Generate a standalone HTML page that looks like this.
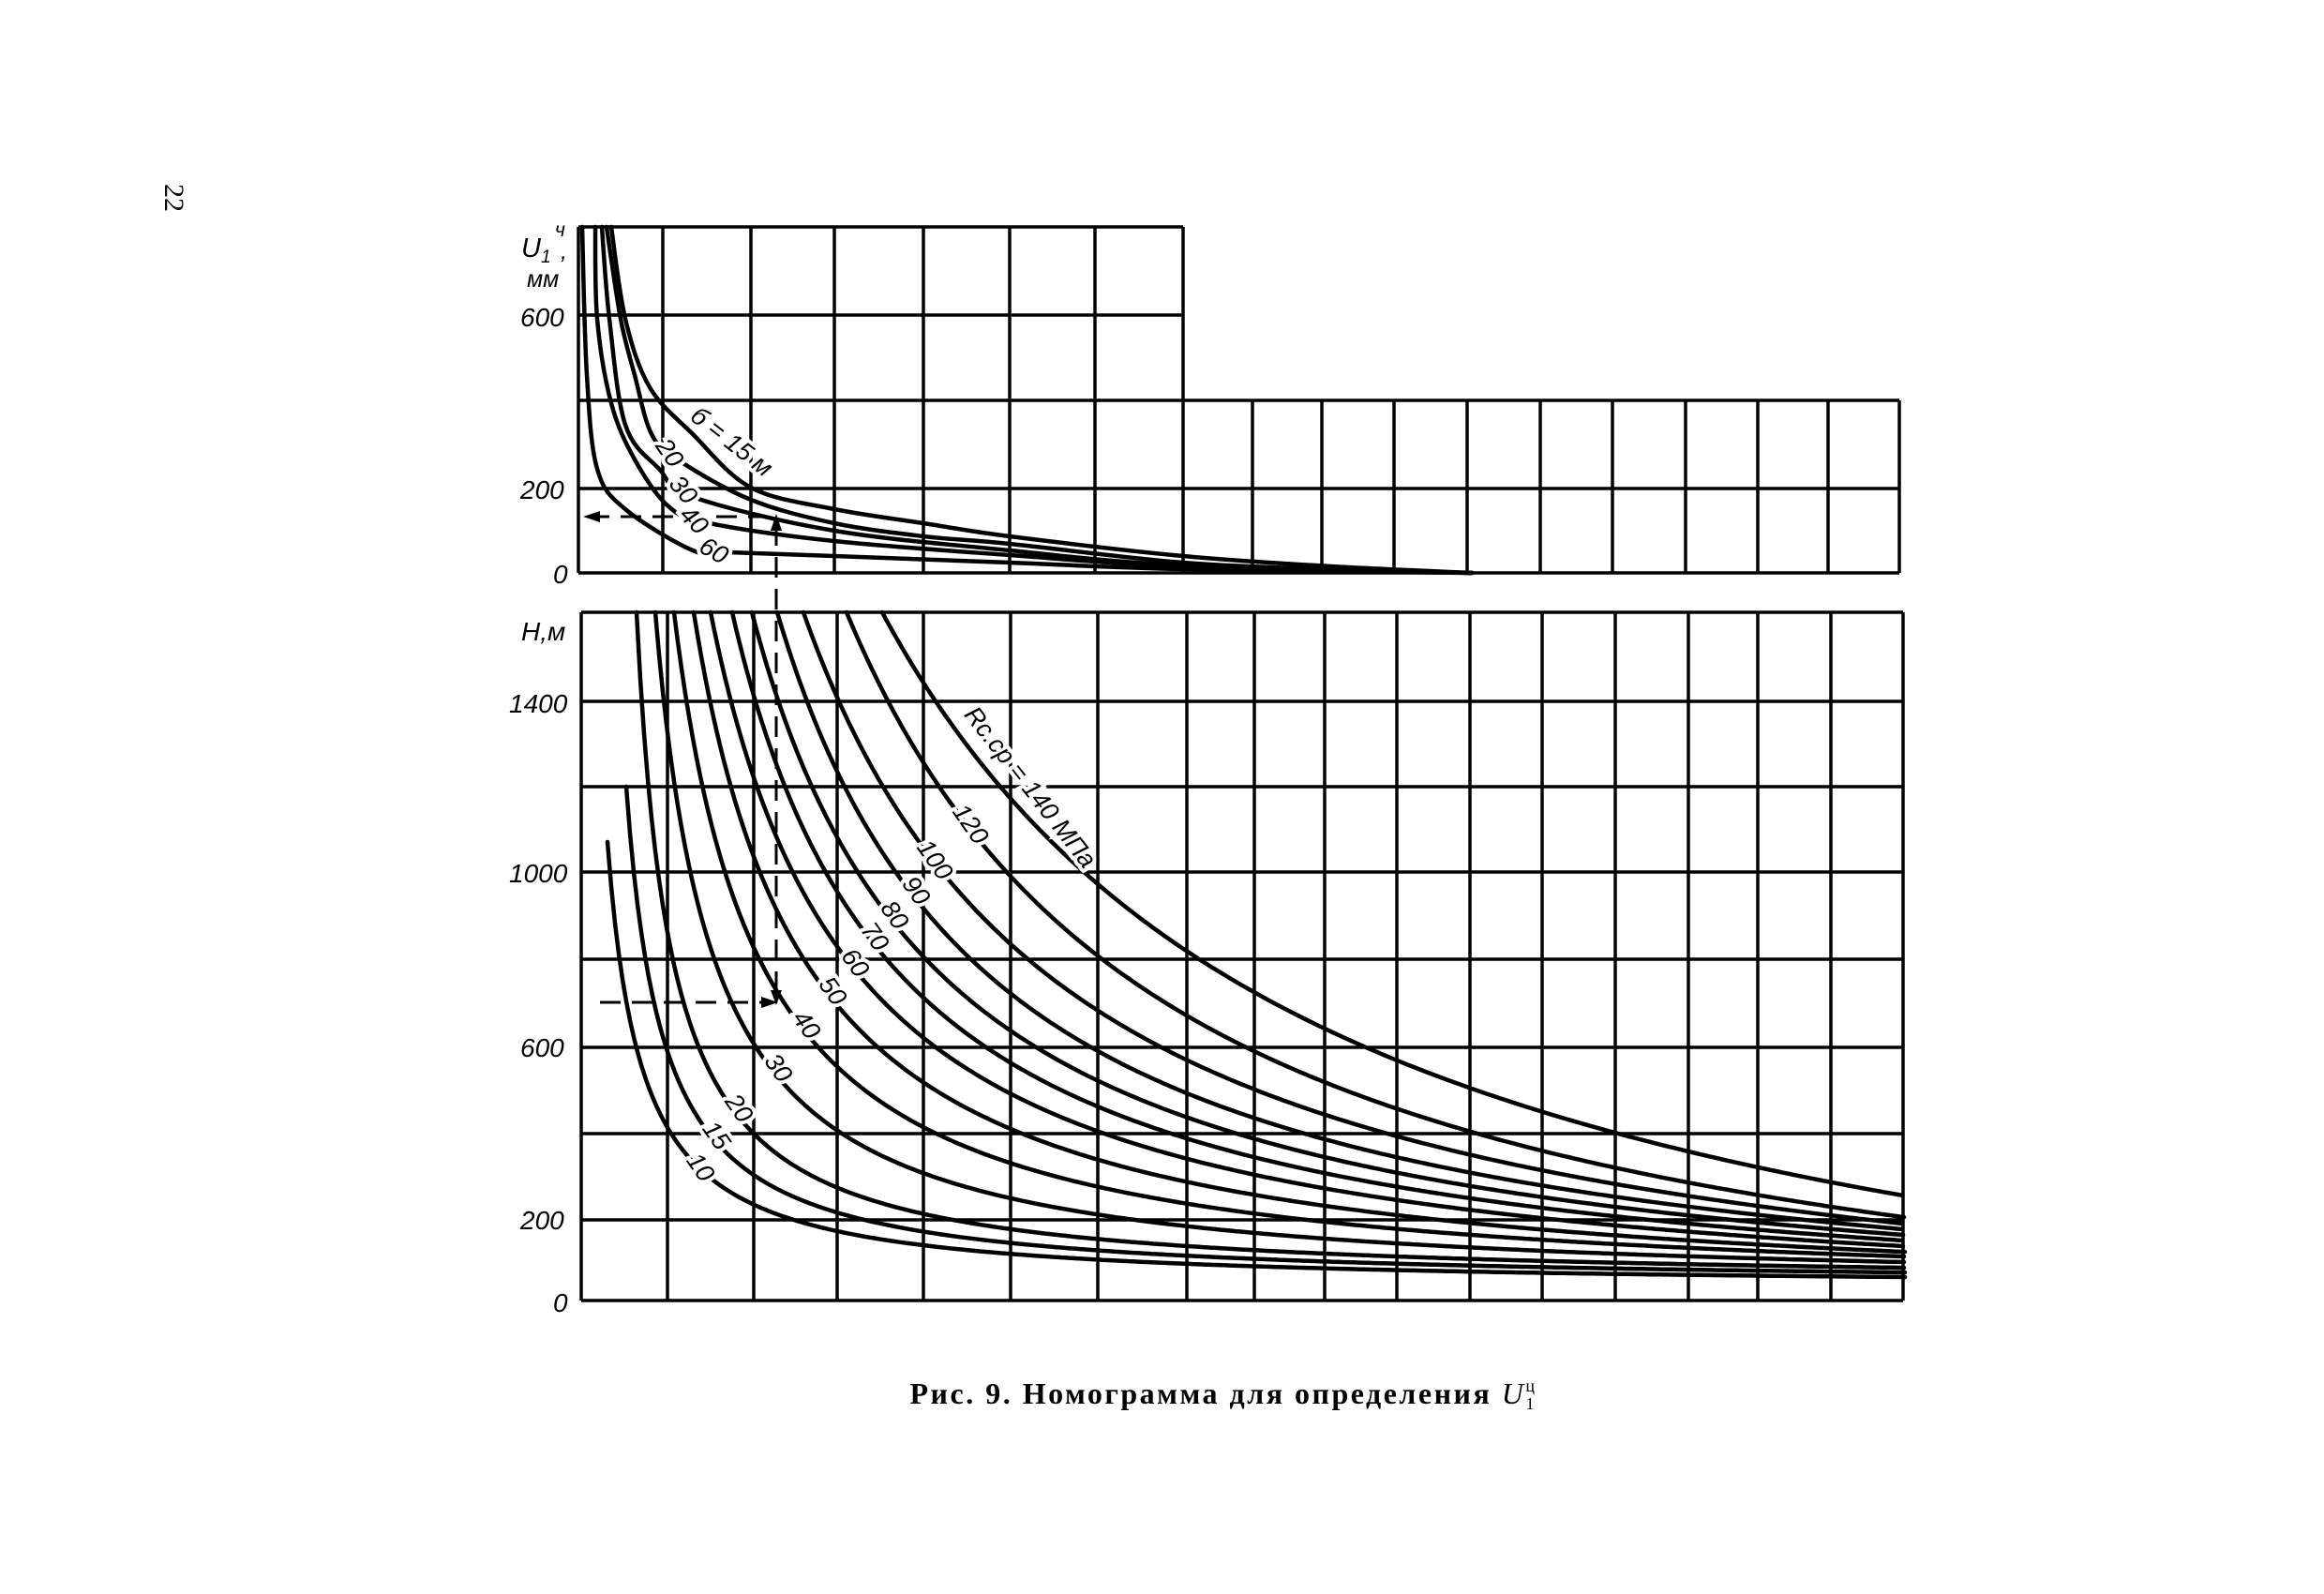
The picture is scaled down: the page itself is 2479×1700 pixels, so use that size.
<!DOCTYPE html>
<html><head><meta charset="utf-8"><style>
html,body{margin:0;padding:0;background:#fff;}
svg{display:block;}
text{font-family:"Liberation Sans",sans-serif;font-style:italic;fill:#000;}
.lab{paint-order:stroke;stroke:#fff;stroke-width:8px;}
</style></head><body>
<svg id="s" width="2479" height="1700" viewBox="0 0 2479 1700" xmlns="http://www.w3.org/2000/svg">
<g id="grid" stroke="#000" stroke-width="3.5" fill="none"></g>
<g id="curves" stroke="#000" stroke-width="4.5" fill="none" stroke-linecap="round"></g>
<g stroke="#000" stroke-width="3" stroke-dasharray="22,12" fill="none">
<line x1="828" y1="560" x2="828" y2="1060"/>
<line x1="820" y1="551" x2="632" y2="551"/>
<line x1="640" y1="1069" x2="818" y2="1069"/>
</g>
<g fill="#000">
<polygon points="828,548 822,566 834,566"/>
<polygon points="622,551 640,545 640,557"/>
<polygon points="830,1069 812,1063 812,1075"/>
<polygon points="828,1072 822,1056 834,1056"/>
</g>
<g id="labels" font-size="27"></g>
<text x="556" y="274" font-size="29">U<tspan font-size="19" dy="6">1</tspan></text>
<text x="592" y="252" font-size="21">ч</text>
<text x="598" y="276" font-size="25">,</text>
<text x="562" y="306" font-size="25">мм</text>
<text x="555" y="348" font-size="28">600</text>
<text x="555" y="532" font-size="28">200</text>
<text x="590" y="622" font-size="28">0</text>
<text x="556" y="683" font-size="28">H,м</text>
<text x="543" y="760" font-size="28">1400</text>
<text x="543" y="941" font-size="28">1000</text>
<text x="555" y="1127" font-size="28">600</text>
<text x="555" y="1311" font-size="28">200</text>
<text x="590" y="1399" font-size="28">0</text>
<text x="0" y="0" font-size="30" style="font-style:normal;font-family:'Liberation Serif',serif" transform="translate(176,196) rotate(90)">22</text>
<text x="1305" y="1497" font-size="32" text-anchor="middle" style="font-style:normal;font-weight:bold;font-family:'Liberation Serif','Noto Serif CJK SC',serif;letter-spacing:2.5px">Рис. 9. Номограмма для определения <tspan style="font-style:italic;font-weight:normal">U</tspan><tspan font-size="18" dy="-13" style="font-weight:normal">ц</tspan><tspan font-size="18" dy="19" dx="-12" style="font-weight:normal">1</tspan></text>
</svg>
<script>
var NS="http://www.w3.org/2000/svg";
function el(p,t,a){var e=document.createElementNS(NS,t);for(var k in a)e.setAttribute(k,a[k]);p.appendChild(e);return e;}
var G=document.getElementById('grid'),C=document.getElementById('curves'),L=document.getElementById('labels');
function ln(x1,y1,x2,y2){el(G,'line',{x1:x1,y1:y1,x2:x2,y2:y2});}
var tv=[617,707,801,890,985,1077,1168,1262];
tv.forEach(function(x){ln(x,242,x,611);});
var te=[1336,1410,1487,1565,1643,1720,1798,1875,1950,2026];
te.forEach(function(x){ln(x,427,x,611);});
[242,336].forEach(function(y){ln(617,y,1262,y);});
[427,521,611].forEach(function(y){ln(617,y,2026,y);});
var bv=[620,712,804,893,985,1078,1171,1266,1338,1413,1490,1568,1645,1723,1801,1875,1953,2030];
bv.forEach(function(x){ln(x,653,x,1387);});
[653,748,839,930,1023,1117,1209,1301,1387].forEach(function(y){ln(620,y,2030,y);});
function cr(p){var d="M"+p[0][0]+","+p[0][1];for(var i=0;i<p.length-1;i++){var p0=p[i-1]||p[i],p1=p[i],p2=p[i+1],p3=p[i+2]||p2;
d+=" C"+(p1[0]+(p2[0]-p0[0])/6).toFixed(1)+","+(p1[1]+(p2[1]-p0[1])/6).toFixed(1)+" "+(p2[0]-(p3[0]-p1[0])/6).toFixed(1)+","+(p2[1]-(p3[1]-p1[1])/6).toFixed(1)+" "+p2[0]+","+p2[1];}
el(C,'path',{d:d});}
cr([[652,242],[667,340],[693,413],[739,463],[801,520],[890,543],[985,558],[1077,572],[1262,593],[1420,604],[1570,611]]);
cr([[647,242],[662,340],[677,400],[695,463],[724,491],[801,533],[890,558],[985,572],[1077,580],[1262,600],[1420,607],[1570,611]]);
cr([[642,242],[650,340],[667,453],[703,500],[739,530],[890,566],[1077,587],[1262,603],[1570,611]]);
cr([[635,242],[637,340],[652,430],[677,490],[713,540],[757,558],[890,577],[1077,592],[1262,604],[1570,611]]);
cr([[621,242],[626,400],[637,500],[667,543],[739,587],[777,589],[890,593],[1077,600],[1262,607],[1570,611]]);
function fit(P){var b=1387;var h=P.map(function(p){return b-p[1]});
function res(x0){var d1=P[0][0]-x0,d2=P[1][0]-x0;var a=(h[0]*d1-h[1]*d2)/(P[0][0]-P[1][0]);var K=(h[0]-a)*d1;return [a+K/(P[2][0]-x0)-h[2],a,K];}
var lo=200,hi=P[0][0]-0.5;for(var i=0;i<80;i++){var m=(lo+hi)/2;var r=res(m),rl=res(lo);if((r[0]>0)==(rl[0]>0))lo=m;else hi=m;}
var r=res(lo),pts=[];for(var x=P[0][0];x<=2032;x+=4){pts.push([x,(b-(r[1]+r[2]/(x-lo))).toFixed(1)]);}
el(C,'polyline',{points:pts.map(function(p){return p.join(',')}).join(' ')});}
var B=[
[[648,898],[740,1240],[2030,1362]],
[[668,839],[755,1207],[2030,1357]],
[[679,653],[778,1178],[2030,1352]],
[[699,653],[819,1135],[2030,1346]],
[[719,653],[850,1089],[2030,1340]],
[[740,653],[878,1053],[2030,1335]],
[[758,653],[903,1023],[2030,1329]],
[[781,653],[923,995],[2030,1323]],
[[802,653],[944,972],[2030,1317]],
[[829,653],[967,946],[2030,1311]],
[[857,653],[1010,936],[2030,1305]],
[[903,653],[1046,898],[2030,1298]],
[[941,653],[1163,936],[2030,1275]]
];
B.forEach(fit);
function lab(x,y,t,r,fs){var e=el(L,'text',{x:x,y:y,'class':'lab','text-anchor':'middle','transform':'rotate('+r+' '+x+' '+y+')'});if(fs)e.setAttribute('font-size',fs);e.textContent=t;}
lab(740,1250,"10",55);lab(757,1216,"15",55);lab(781,1187,"20",55);lab(823,1144,"30",55);
lab(853,1098,"40",55);lab(881,1062,"50",55);lab(905,1032,"60",55);lab(926,1004,"70",55);
lab(947,981,"80",55);lab(970,955,"90",55);lab(990,922,"100",55);lab(1028,884,"120",55);
lab(1092,845,"Rc.cp = 140 МПа",52,27);
lab(775,478,"б = 15 м",38);lab(707,488,"20",55);lab(722,528,"30",50);lab(734,561,"40",45);lab(757,595,"60",30);
</script>
</body></html>
